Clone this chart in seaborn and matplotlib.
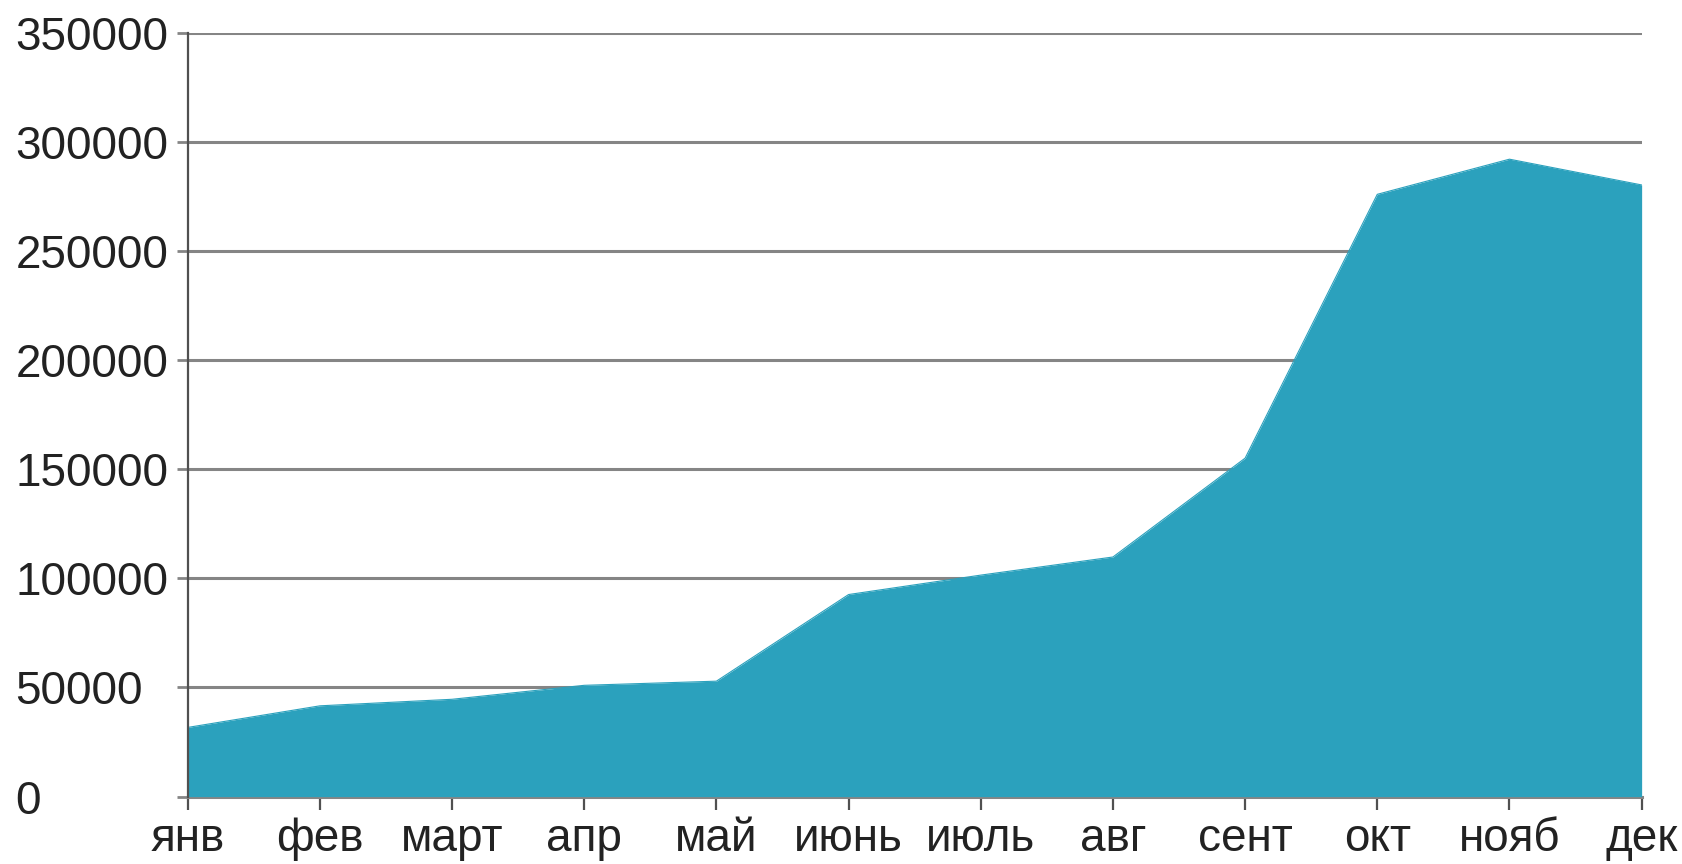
import seaborn as sns
import matplotlib.pyplot as plt
import pandas as pd
import numpy as np

months = ["янв", "фев", "март", "апр", "май", "июнь", "июль", "авг", "сент", "окт", "нояб", "дек"]
values = [31700, 41600, 44600, 51000, 52900, 92600, 101500, 109800, 155100, 276000, 292100, 280300]
yticks = [0, 50000, 100000, 150000, 200000, 250000, 300000, 350000]

df = pd.DataFrame({"month": months, "value": values})
df["pos"] = np.arange(len(months))

sns.set_theme(style="white")
plt.rcParams['font.family'] = ['Liberation Sans', 'DejaVu Sans']

fig = plt.figure(figsize=(16.82, 8.64), dpi=100)
ax = fig.add_axes([0.1116, 0.078, 0.976 - 0.1116, 0.884])

fill = "#2ba1bd"
sns.lineplot(data=df, x="pos", y="value", ax=ax, color=fill, linewidth=0.8, zorder=3)
ax.fill_between(df["pos"], df["value"], 0, color=fill, linewidth=0, zorder=3)

ax.set_xlim(0, len(months) - 1)
ax.set_ylim(0, 350000)
ax.set_yticks(yticks)
ax.set_yticklabels([str(v) for v in yticks])
ax.set_xticks(df["pos"])
ax.set_xticklabels(months)
ax.set_xlabel("")
ax.set_ylabel("")

for y in yticks[1:]:
    ax.axhline(y, color="#858585", linewidth=2.2, zorder=1)

for s in ["top", "right"]:
    ax.spines[s].set_visible(False)
ax.spines["left"].set_color("#505050")
ax.spines["left"].set_linewidth(1.6)
ax.spines["bottom"].set_color("#858585")
ax.spines["bottom"].set_linewidth(2.2)
ax.spines["left"].set_zorder(4)

ax.tick_params(axis="y", length=8, width=2, color="#858585", pad=116, labelsize=33, labelcolor="#222222")
ax.tick_params(axis="x", length=9, width=1.6, color="#505050", pad=6, labelsize=33, labelcolor="#222222", bottom=True)
ax.tick_params(axis="y", left=True)
for lbl in ax.get_yticklabels():
    lbl.set_horizontalalignment("left")

fig.savefig("out.png", dpi=100)
